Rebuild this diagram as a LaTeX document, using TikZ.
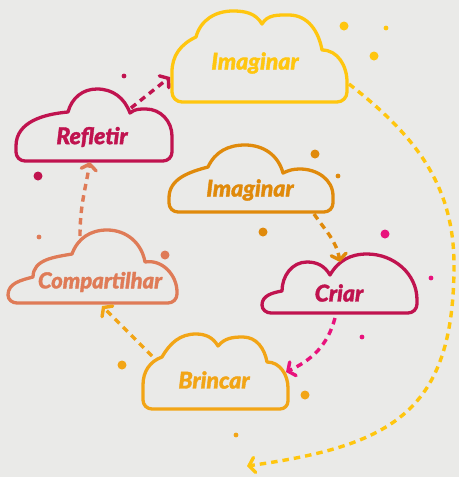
\documentclass[tikz,border=0pt]{standalone}
\usepackage{fontspec}
\setmainfont{Lato}
\newfontfamily\lblfont{Lato}[ItalicFont={Lato Black Italic},ItalicFeatures={FakeBold=1.6}]
\usetikzlibrary{arrows.meta}
\definecolor{bgc}{HTML}{EAEAE8}
\definecolor{cyel}{HTML}{FFC60F}
\definecolor{ccrim}{HTML}{C0134F}
\definecolor{corg}{HTML}{E08A0B}
\definecolor{ccor}{HTML}{DF7B57}
\definecolor{cmag}{HTML}{E8127C}
\definecolor{cbri}{HTML}{F2A516}
\tikzset{
  cloudline/.style={line width=3.3pt, line join=round, line cap=round},
  lbl/.style={font=\fontsize{23}{23}\selectfont\lblfont\itshape, inner sep=0pt},
  conn/.style={line width=3.4pt, dash pattern=on 6.5pt off 5pt,
    -{Straight Barb[length=5.5pt,width=15pt,line cap=round,line join=miter]}},
  conn0/.style={line width=3.4pt, dash pattern=on 6.5pt off 5pt},
  bigdot/.style={radius=4.5pt},
  smalldot/.style={radius=2.4pt}
}
\begin{document}
\begin{tikzpicture}[x=1pt,y=-1pt]
\fill[bgc] (0,0) rectangle (459,477);
\useasboundingbox (0,0) rectangle (459,477);

% cloud 1: top Imaginar (yellow)
\draw[cloudline, cyel] (182,102) -- (337,102) to[out=0,in=-90] (347,92) -- (347,82)
  to[out=90,in=0] (322,50) to[out=100,in=0] (289,15) to[out=180,in=60] (262,24)
  to[out=120,in=0] (233,11) to[out=180,in=75] (196,37) to[out=205,in=90] (172,72)
  -- (172,92) to[out=-90,in=180] (182,102) -- cycle;
\node[lbl, cyel] (imag1) at (255,63) {Imaginar};

% cloud 2: Refletir (crimson)
\draw[cloudline, ccrim] (25,161) -- (163,161) to[out=0,in=-90] (172,152) -- (172,136)
  to[out=90,in=0] (146,109) to[out=180,in=40] (130,113)
  to[out=110,in=0] (97,89) to[out=180,in=75] (68,112) to[out=185,in=90] (16,146)
  -- (16,152) to[out=-90,in=180] (25,161) -- cycle;
\node[lbl, ccrim] (refl) at (92,137) {Refletir};

% cloud 3: Imaginar (orange)
\draw[cloudline, corg] (178,212) -- (324,212) to[out=0,in=-90] (333,203) -- (333,196)
  to[out=90,in=0] (300,169) to[out=180,in=25] (283,173)
  to[out=105,in=0] (245,145) to[out=180,in=65] (208,167) to[out=195,in=90] (169,198)
  -- (169,203) to[out=-90,in=180] (178,212) -- cycle;
\node[lbl, corg] (imag2) at (250,190) {Imaginar};

% cloud 4: Compartilhar (coral)
\draw[cloudline, ccor] (17,303) -- (168,303) to[out=0,in=-90] (177,294) -- (177,292)
  to[out=90,in=10] (145,262)
  to[out=100,in=0] (107,230) to[out=180,in=70] (72,254) to[out=190,in=90] (33,277)
  to[out=195,in=90] (8,295) to[out=-90,in=180] (17,303) -- cycle;
\node[lbl, ccor, font=\fontsize{22}{22}\selectfont\lblfont\itshape] (comp) at (100,282) {Compartilhar};

% cloud 5: Criar (crimson)
\draw[cloudline, ccrim] (271,313) -- (408,313) to[out=0,in=-90] (417,304) -- (417,300)
  to[out=90,in=0] (367,254) to[out=180,in=60] (330,275)
  to[out=120,in=0] (307,262) to[out=180,in=90] (282,291)
  to[out=190,in=90] (262,305) to[out=-90,in=180] (271,313) -- cycle;
\node[lbl, ccrim] (criar) at (339,293) {Criar};

% cloud 6: Brincar (orange-yellow)
\draw[cloudline, cbri] (152,409) -- (280,409) to[out=0,in=-90] (288,401) -- (288,388)
  to[out=90,in=0] (267,362) to[out=100,in=0] (243,337) to[out=180,in=50] (218,346)
  to[out=120,in=0] (196,334) to[out=180,in=60] (162,357) to[out=200,in=90] (143,385)
  -- (143,400) to[out=-90,in=180] (152,409) -- cycle;
\node[lbl, cbri] (brinc) at (214,380) {Brincar};

% connector end points
\coordinate (a0) at (131,108); \coordinate (a1) at (170,77);
\coordinate (b0) at (80,236);  \coordinate (b1) at (90,162);
\coordinate (c0) at (314,214); \coordinate (c1) at (340,262);
\coordinate (d0) at (335,318); \coordinate (d1) at (286,372);
\coordinate (e0) at (152,356); \coordinate (e1) at (102,306);
\coordinate (f0) at (349,84);  \coordinate (fm) at (454,265); \coordinate (f1) at (247,466);

\draw[conn, ccrim] (a0) -- (a1);
\draw[conn, ccor] (b0) to[out=90,in=-100] (b1);
\draw[conn, corg] (c0) to[out=-55,in=100] (c1);
\draw[conn, cmag] (d0) to[out=-105,in=25] (d1);
\draw[conn, cbri] (e0) -- (e1);
\draw[conn0, cyel] (f0) to[out=-38,in=90] (fm);
\draw[conn, cyel] (fm) to[out=-90,in=8,looseness=1.3] (f1);

% dots
\fill[cyel] (344,26) circle[bigdot] (386,28) circle[smalldot] (374,56) circle[bigdot];
\fill[ccrim] (124,76) circle[smalldot] (38,176) circle[bigdot];
\fill[corg] (315,154) circle[bigdot] (338,176) circle[smalldot] (263,232) circle[bigdot];
\fill[ccor] (39,237) circle[smalldot] (165,255) circle[bigdot];
\fill[cmag] (385,234) circle[bigdot] (431,278) circle[smalldot] (362,337) circle[smalldot];
\fill[cbri] (122,365) circle[bigdot] (305,395) circle[bigdot] (236,435) circle[smalldot];
\end{tikzpicture}
\end{document}
